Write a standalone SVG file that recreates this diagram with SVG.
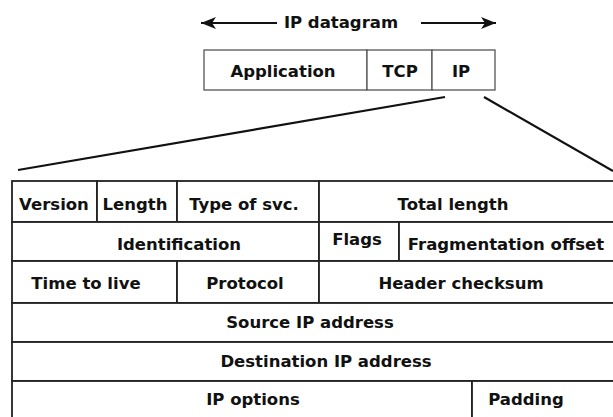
<svg xmlns="http://www.w3.org/2000/svg" width="613" height="417" viewBox="0 0 613 417">
<style>
text{font-family:"DejaVu Sans","Liberation Sans",Arial,sans-serif;font-weight:bold;font-size:16.5px;fill:#111;text-anchor:middle}
.cell{fill:#fff;stroke:#222;stroke-width:1.8}
.box{fill:#fff;stroke:#555;stroke-width:1.3}
.conn{stroke:#111;stroke-width:2.2;fill:none}
</style>
<defs>
<marker id="ah" markerWidth="16" markerHeight="14" refX="15" refY="7" orient="auto" markerUnits="userSpaceOnUse">
<path d="M0,1 L15,7 L0,13 L4,7 Z" fill="#111"/>
</marker>
</defs>
<rect width="613" height="417" fill="#fff"/>
<g id="datagram-label">
<text x="341" y="28">IP datagram</text>
</g>
<g id="app"><rect class="box" x="204" y="50" width="163" height="40"/><text x="283" y="77">Application</text></g>
<g id="tcp"><rect class="box" x="367" y="50" width="65" height="40"/><text x="400" y="77">TCP</text></g>
<g id="ip"><rect class="box" x="432" y="50" width="63" height="40"/><text x="461" y="77">IP</text></g>
<g id="connectors">
<line class="conn" x1="277" y1="23" x2="201" y2="23" marker-end="url(#ah)"/>
<line class="conn" x1="421" y1="23" x2="496" y2="23" marker-end="url(#ah)"/>
<line class="conn" x1="445" y1="97" x2="18" y2="170"/>
<line class="conn" x1="484" y1="97" x2="613" y2="171"/>
</g>
<g id="version"><rect class="cell" x="12" y="181" width="85" height="41"/><text x="54" y="210">Version</text></g>
<g id="length"><rect class="cell" x="97" y="181" width="80" height="41"/><text x="135" y="210">Length</text></g>
<g id="tos"><rect class="cell" x="177" y="181" width="142" height="41"/><text x="244" y="210">Type of svc.</text></g>
<g id="total"><rect class="cell" x="319" y="181" width="310" height="41"/><text x="453" y="210">Total length</text></g>
<g id="ident"><rect class="cell" x="12" y="222" width="307" height="39"/><text x="179" y="250">Identification</text></g>
<g id="flags"><rect class="cell" x="319" y="222" width="80" height="39"/><text x="357" y="245">Flags</text></g>
<g id="frag"><rect class="cell" x="399" y="222" width="230" height="39"/><text x="506" y="250">Fragmentation offset</text></g>
<g id="ttl"><rect class="cell" x="12" y="261" width="165" height="42"/><text x="86" y="289">Time to live</text></g>
<g id="proto"><rect class="cell" x="177" y="261" width="142" height="42"/><text x="245" y="289">Protocol</text></g>
<g id="checksum"><rect class="cell" x="319" y="261" width="310" height="42"/><text x="461" y="289">Header checksum</text></g>
<g id="src"><rect class="cell" x="12" y="303" width="617" height="39"/><text x="310" y="328">Source IP address</text></g>
<g id="dst"><rect class="cell" x="12" y="342" width="617" height="39"/><text x="326" y="367">Destination IP address</text></g>
<g id="options"><rect class="cell" x="12" y="381" width="460" height="50"/><text x="253" y="405">IP options</text></g>
<g id="padding"><rect class="cell" x="472" y="381" width="157" height="50"/><text x="526" y="405">Padding</text></g>
</svg>
